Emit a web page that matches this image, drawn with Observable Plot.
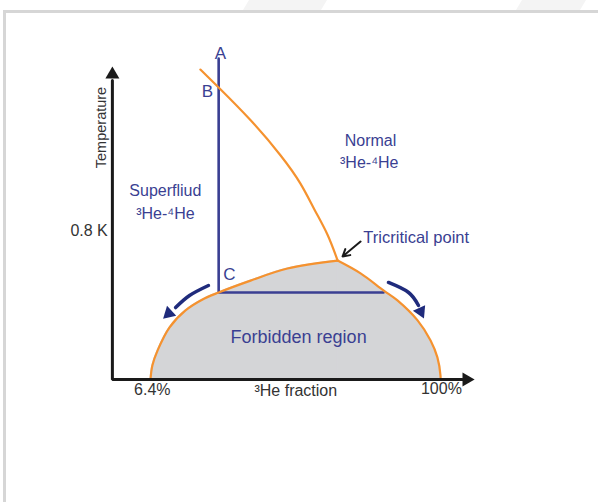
<!DOCTYPE html>
<html><head><meta charset="utf-8">
<script src="https://cdn.jsdelivr.net/npm/d3@7"></script>
<script src="https://cdn.jsdelivr.net/npm/@observablehq/plot@0.6"></script>
<style>
html,body{margin:0;padding:0;background:#fff;width:598px;height:502px;overflow:hidden;}
#frame{position:absolute;left:3px;top:10px;width:700px;height:600px;border-left:3px solid #d6d6d6;border-top:3px solid #d6d6d6;}
.bg{position:absolute;top:0;height:10px;background:#f4f4f4;}
#chart{position:absolute;left:0;top:0;}
</style></head><body>
<div class="bg" style="left:243px;width:84px;clip-path:polygon(6px 0,100% 0,calc(100% - 6px) 100%,0 100%)"></div>
<div class="bg" style="left:516px;width:70px;clip-path:polygon(6px 0,100% 0,calc(100% - 6px) 100%,0 100%)"></div>
<div id="frame"></div>
<div id="chart"></div>
<script>
// ---- data (x: ³He fraction in %, t: temperature in K) ----
const lambdaFraction = [22.5, 28.4, 38.8, 48.4, 54.8, 59.3, 63.5, 66.8];
const lambdaTemp     = [1.642, 1.547, 1.372, 1.187, 1.038, 0.901, 0.768, 0.630];

const domeLeftFraction = [6.4, 7.0, 8.7, 12.5, 17.7, 23.2, 28.4, 38.7, 50.6, 66.8];
const domeLeftTemp     = [0, 0.074, 0.154, 0.275, 0.366, 0.424, 0.461, 0.524, 0.588, 0.630];

const domeRightFraction = [66.8, 74.2, 81.6, 86.1, 92.6, 96.8, 99.0, 100, 100];
const domeRightTemp     = [0.630, 0.562, 0.472, 0.419, 0.313, 0.207, 0.117, 0.021, 0];

const pathFraction = [28.4, 28.4, 81.6];      // A -> C -> other side of dome
const pathTemp     = [1.70, 0.461, 0.461];

const axisFraction = [-5.9, -5.9, 107.1];
const axisTemp     = [1.584, 0, 0];
const axisHeadFraction = [-5.9, 108.4];
const axisHeadTemp     = [1.616, 0];
const axisHeadAngle    = [0, 90];

const leftArrowFraction = [25.1, 19.0, 14.5];
const leftArrowTemp     = [0.498, 0.445, 0.381];
const rightArrowFraction = [83.2, 89.7, 92.9];
const rightArrowTemp     = [0.514, 0.461, 0.392];
const curveHeadFraction = [12.3, 93.6];
const curveHeadTemp     = [0.350, 0.360];
const curveHeadAngle    = [227, 155];

const tricritArrow = [{x1: 74.2, t1: 0.731, x2: 68.4, t2: 0.652}];

const letterLabels = [
  {x: 29.0, t: 1.727, text: "A"},
  {x: 24.8, t: 1.526, text: "B"},
  {x: 31.9, t: 0.556, text: "C"}
];
const regionLabels = [
  {x: 77.4, t: 1.266, text: "Normal"},
  {x: 77.0, t: 1.150, text: "³He-⁴He"},
  {x: 11.2, t: 1.001, text: "Superfliud"},
  {x: 11.2, t: 0.879, text: "³He-⁴He"}
];
const forbiddenLabel = [{x: 54.2, t: 0.2225, text: "Forbidden region"}];
const pointLabels = [{x: 75.1, t: 0.752, text: "Tricritical point"}];
const tickLabels = [
  {x: 7.0, t: -0.053, text: "6.4%"},
  {x: 100.3, t: -0.048, text: "100%"},
  {x: 53.3, t: -0.058, text: "³He fraction"}
];
const yTickLabels = [{x: -7.4, t: 0.79, text: "0.8 K"}];
const yTitle = [{x: -9.4, t: 1.335, text: "Temperature"}];

const zip = (xs, ts) => xs.map((x, i) => ({x, t: ts[i]}));
const lambdaLine = zip(lambdaFraction, lambdaTemp);
const domeLeft = zip(domeLeftFraction, domeLeftTemp);
const domeRight = zip(domeRightFraction, domeRightTemp);
const path = zip(pathFraction, pathTemp);
const axis = zip(axisFraction, axisTemp);
const axisHeads = axisHeadFraction.map((x, i) => ({x, t: axisHeadTemp[i], a: axisHeadAngle[i]}));
const leftArrow = zip(leftArrowFraction, leftArrowTemp);
const rightArrow = zip(rightArrowFraction, rightArrowTemp);
const curveHeads = curveHeadFraction.map((x, i) => ({x, t: curveHeadTemp[i], a: curveHeadAngle[i]}));

const ORANGE = "#f5922f", NAVY = "#3a3f92", DARKNAVY = "#1f2b7c", GRAY = "#d4d5d7", INK = "#1a1a1a";
const FONT = "'Liberation Sans', Arial, Helvetica, sans-serif";

const chart = Plot.plot({
  width: 598, height: 502, margin: 0,
  style: {fontFamily: FONT, background: "transparent"},
  x: {domain: [6.4, 100], range: [150, 440], axis: null},
  y: {domain: [0, 0.8], range: [379, 228], axis: null},
  marks: [
    Plot.areaY(domeLeft, {x: "x", y: "t", fill: GRAY, stroke: GRAY, strokeWidth: 1, curve: "catmull-rom"}),
    Plot.areaY(domeRight, {x: "x", y: "t", fill: GRAY, stroke: GRAY, strokeWidth: 1, curve: "catmull-rom"}),
    Plot.line(path, {x: "x", y: "t", stroke: NAVY, strokeWidth: 2.6, strokeLinejoin: "miter"}),
    Plot.line(domeLeft, {x: "x", y: "t", stroke: ORANGE, strokeWidth: 2.2, curve: "catmull-rom"}),
    Plot.line(domeRight, {x: "x", y: "t", stroke: ORANGE, strokeWidth: 2.2, curve: "catmull-rom"}),
    Plot.line(lambdaLine, {x: "x", y: "t", stroke: ORANGE, strokeWidth: 2.2, curve: "natural"}),
    Plot.line(leftArrow, {x: "x", y: "t", stroke: DARKNAVY, strokeWidth: 3.5, curve: "natural"}),
    Plot.line(rightArrow, {x: "x", y: "t", stroke: DARKNAVY, strokeWidth: 3.5, curve: "natural"}),
    Plot.dot(curveHeads, {x: "x", y: "t", rotate: "a", symbol: "triangle", r: 5, fill: DARKNAVY, stroke: "none"}),
    Plot.line(axis, {x: "x", y: "t", stroke: INK, strokeWidth: 3, strokeLinejoin: "miter"}),
    Plot.dot(axisHeads, {x: "x", y: "t", rotate: "a", symbol: "triangle", r: 5.2, fill: INK, stroke: "none"}),
    Plot.arrow(tricritArrow, {x1: "x1", y1: "t1", x2: "x2", y2: "t2", stroke: INK, strokeWidth: 2, headLength: 9}),
    Plot.text(letterLabels, {x: "x", y: "t", text: "text", fontSize: 17, fill: NAVY}),
    Plot.text(regionLabels, {x: "x", y: "t", text: "text", fontSize: 16, fill: NAVY}),
    Plot.text(forbiddenLabel, {x: "x", y: "t", text: "text", fontSize: 18, fill: NAVY}),
    Plot.text(pointLabels, {x: "x", y: "t", text: "text", fontSize: 16.5, fill: NAVY, textAnchor: "start"}),
    Plot.text(tickLabels, {x: "x", y: "t", text: "text", fontSize: 16, fill: "#333"}),
    Plot.text(yTickLabels, {x: "x", y: "t", text: "text", fontSize: 16, fill: "#333", textAnchor: "end"}),
    Plot.text(yTitle, {x: "x", y: "t", text: "text", fontSize: 14.5, fill: "#333", rotate: -90})
  ]
});
document.getElementById("chart").appendChild(chart);
</script>
</body></html>
